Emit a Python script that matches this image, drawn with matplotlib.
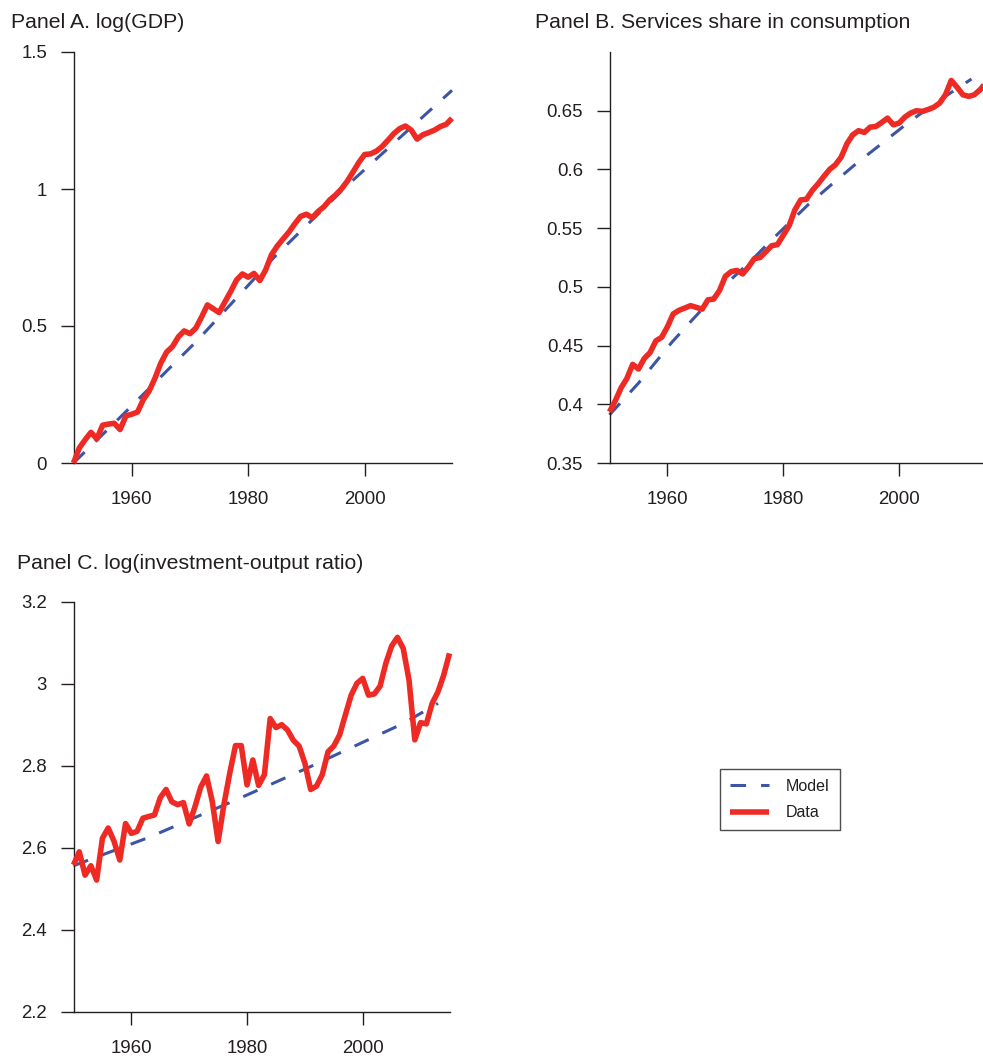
import matplotlib

matplotlib.use("Agg")
import matplotlib.pyplot as plt
import numpy as np

plt.rcParams["font.family"] = ["Liberation Sans", "DejaVu Sans"]

# ------------------------------------------------------------------ #
# Data
# ------------------------------------------------------------------ #
years = np.arange(1950, 2016)

gdp_data = [
    0.000, 0.055, 0.085, 0.112, 0.088, 0.138, 0.142, 0.145, 0.122, 0.172,
    0.178, 0.186, 0.232, 0.263, 0.310, 0.365, 0.405, 0.425, 0.460, 0.482,
    0.472, 0.492, 0.533, 0.577, 0.563, 0.549, 0.588, 0.626, 0.668, 0.690,
    0.678, 0.692, 0.666, 0.705, 0.760, 0.792, 0.818, 0.843, 0.873, 0.900,
    0.908, 0.895, 0.918, 0.935, 0.960, 0.978, 1.000, 1.028, 1.062, 1.097,
    1.126, 1.128, 1.138, 1.155, 1.178, 1.202, 1.220, 1.230, 1.215, 1.182,
    1.198, 1.206, 1.215, 1.228, 1.236, 1.258,
]
gdp_model_years = [1950, 1958.6, 1971.3, 1984.5, 1997.1, 2015]
gdp_model = [0.0, 0.179, 0.448, 0.752, 1.015, 1.36]

services_data = [
    0.3935, 0.403, 0.414, 0.422, 0.434, 0.430, 0.439, 0.444, 0.454, 0.457,
    0.466, 0.477, 0.480, 0.482, 0.484, 0.4825, 0.481, 0.489, 0.4896, 0.497,
    0.509, 0.513, 0.514, 0.511, 0.517, 0.524, 0.525, 0.530, 0.535, 0.536,
    0.544, 0.552, 0.5655, 0.574, 0.5746, 0.582, 0.5877, 0.594, 0.600, 0.604,
    0.6105, 0.622, 0.6295, 0.633, 0.6315, 0.636, 0.6366, 0.640, 0.6437, 0.638,
    0.6395, 0.6446, 0.648, 0.650, 0.6494, 0.651, 0.653, 0.6565, 0.6636, 0.6758,
    0.670, 0.6636, 0.6622, 0.6636, 0.668, 0.674,
]
services_model_years = [1950, 1955, 1960.8, 1964.5, 1970, 1974, 1978, 1984.3,
                        1988.3, 1992.6, 1997, 2001.6, 2006.7, 2012.5]
services_model = [0.391, 0.418, 0.453, 0.473, 0.502, 0.520, 0.540, 0.570,
                  0.587, 0.605, 0.622, 0.640, 0.658, 0.677]

invest_data = [
    2.558, 2.590, 2.533, 2.556, 2.521, 2.623, 2.648, 2.616, 2.570, 2.659,
    2.635, 2.640, 2.672, 2.676, 2.680, 2.722, 2.742, 2.712, 2.705, 2.710,
    2.658, 2.700, 2.748, 2.775, 2.712, 2.615, 2.705, 2.781, 2.849, 2.849,
    2.753, 2.814, 2.752, 2.778, 2.915, 2.893, 2.900, 2.887, 2.862, 2.848,
    2.806, 2.742, 2.750, 2.778, 2.834, 2.848, 2.875, 2.924, 2.972, 3.001,
    3.013, 2.972, 2.975, 2.994, 3.050, 3.092, 3.113, 3.086, 3.009, 2.863,
    2.905, 2.902, 2.952, 2.980, 3.021, 3.074,
]
invest_model_years = [1950, 1963, 1978, 1991, 2007, 2013]
invest_model = [2.556, 2.625, 2.716, 2.798, 2.903, 2.952]

x_ticks = [1960, 1980, 2000]

gdp_ticks = [0, 0.5, 1, 1.5]
gdp_ticklabels = ["0", "0.5", "1", "1.5"]
services_ticks = [0.35, 0.4, 0.45, 0.5, 0.55, 0.6, 0.65]
services_ticklabels = ["0.35", "0.4", "0.45", "0.5", "0.55", "0.6", "0.65"]
invest_ticks = [2.2, 2.4, 2.6, 2.8, 3.0, 3.2]
invest_ticklabels = ["2.2", "2.4", "2.6", "2.8", "3", "3.2"]

RED = "#ee2a24"
BLUE = "#3c55a5"
INK = "#231f20"

W, H = 983, 1057


def px_rect(left, top, right, bottom):
    """Axes rectangle from pixel edges (origin top-left)."""
    return [left / W, 1 - bottom / H, (right - left) / W, (bottom - top) / H]


def style_axes(ax, ylim, yticks, yticklabels):
    ax.set_xlim(1950, 2015)
    ax.set_ylim(*ylim)
    ax.set_xticks(x_ticks)
    ax.set_xticklabels([str(t) for t in x_ticks])
    ax.set_yticks(yticks)
    ax.set_yticklabels(yticklabels)
    for side in ("top", "right"):
        ax.spines[side].set_visible(False)
    for side in ("left", "bottom"):
        ax.spines[side].set_color(INK)
        ax.spines[side].set_linewidth(1.0)
    ax.tick_params(axis="both", direction="out", length=9.5, width=1.0,
                   color=INK, labelcolor=INK, labelsize=13.4)
    ax.tick_params(axis="x", pad=11)
    ax.tick_params(axis="y", pad=9.5)


def draw(ax, model_x, model_y, data_y):
    ax.plot(model_x, model_y, color=BLUE, lw=2.2, dashes=(5.1, 4.9),
            clip_on=False, zorder=2, label="Model")
    ax.plot(years, data_y, color=RED, lw=4.0, solid_joinstyle="round",
            solid_capstyle="butt", clip_on=False, zorder=3, label="Data")


fig = plt.figure(figsize=(W / 100, H / 100), dpi=100)

ax_a = fig.add_axes(px_rect(73.5, 52, 452, 463))
draw(ax_a, gdp_model_years, gdp_model, gdp_data)
style_axes(ax_a, (0, 1.5), gdp_ticks, gdp_ticklabels)

ax_b = fig.add_axes(px_rect(609.5, 52, 986, 463))
draw(ax_b, services_model_years, services_model, services_data)
style_axes(ax_b, (0.35, 0.70), services_ticks, services_ticklabels)

ax_c = fig.add_axes(px_rect(73.5, 601.7, 449.5, 1011.7))
draw(ax_c, invest_model_years, invest_model, invest_data)
style_axes(ax_c, (2.2, 3.2), invest_ticks, invest_ticklabels)

# panel titles
fig.text(11 / W, 1 - 28 / H, "Panel A. log(GDP)", fontsize=15.3, color=INK,
         ha="left", va="baseline")
fig.text(535 / W, 1 - 28 / H, "Panel B. Services share in consumption",
         fontsize=15.3, color=INK, ha="left", va="baseline")
fig.text(17 / W, 1 - 569 / H, "Panel C. log(investment-output ratio)",
         fontsize=15.3, color=INK, ha="left", va="baseline")

handles, labels = ax_c.get_legend_handles_labels()
leg = fig.legend(handles, labels, loc="center",
                 bbox_to_anchor=(780 / W, 1 - 799.5 / H),
                 fontsize=11.5, frameon=True, fancybox=False,
                 handlelength=2.4, handletextpad=1.1, labelspacing=0.7,
                 borderpad=0.65, borderaxespad=0)
leg.get_frame().set_edgecolor(INK)
leg.get_frame().set_linewidth(1.0)
for text in leg.get_texts():
    text.set_color(INK)

fig.savefig("out.png", dpi=100)
